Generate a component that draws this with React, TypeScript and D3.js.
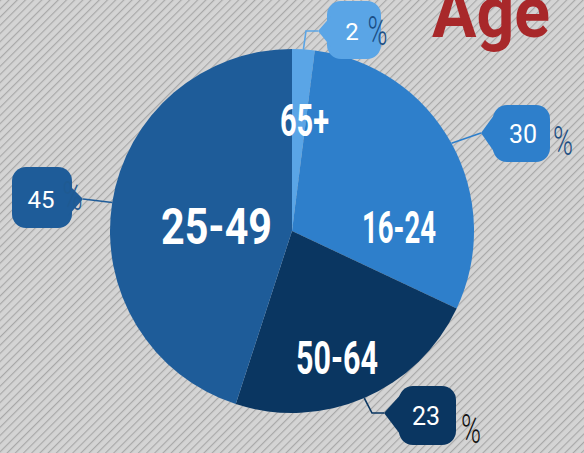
import React from 'react';
import * as d3 from 'd3';

const categories = ['65+', '16-24', '50-64', '25-49'];
const values = [2, 30, 23, 45];
const sliceColors = ['#5aa5e6', '#2e7fcb', '#0a3661', '#1e5c99'];
const percentColors = ['#1b4f86', '#1d4f83', '#111111', '#1f5a92'];
const title = 'Age';

// layout (hand placed, as in the reference)
const W = 584, H = 453;
const CX = 292, CY = 231, R = 182;
const labelLayout = [
  { x: 304.5, y: 136, size: 44, len: 49 },
  { x: 399, y: 243, size: 44, len: 74 },
  { x: 337, y: 374, size: 47, len: 82 },
  { x: 216.5, y: 244, size: 50, len: 111 },
];
const calloutLayout = [
  { box: [327, 1, 54, 58], knee: [306, 31], tip: [318, 31], base: [[331, 16], [331, 47]], num: [352, 40], numSize: 24, pct: [377.5, 45] },
  { box: [493, 105, 57, 57], knee: null, tip: [481, 133], base: [[497, 111], [497, 156]], num: [523, 143], numSize: 25, pct: [563, 155] },
  { box: [399, 386, 57, 59], knee: [372, 413], tip: [384, 413], base: [[403, 392], [403, 438]], num: [426, 425], numSize: 25, pct: [471, 443] },
  { box: [12, 167, 60, 61], knee: null, tip: [83, 199], base: [[68, 184], [68, 216]], num: [41, 208], numSize: 24, pct: [72.5, 210] },
];

export default function App() {
  const pie = d3.pie<number>().sort(null).value((d) => d).startAngle(0).endAngle(Math.PI * 2);
  const arcs = pie(values);
  const arc = d3.arc<d3.PieArcDatum<number>>().innerRadius(0).outerRadius(R);
  const edgeArc = d3.arc<d3.PieArcDatum<number>>().innerRadius(R).outerRadius(R);

  return (
    <svg width={W} height={H} style={{ position: 'absolute', left: 0, top: 0, display: 'block' }}>
      <defs>
        <pattern id="stripes" width="5.8" height="5.8" patternUnits="userSpaceOnUse" patternTransform="rotate(45)">
          <rect width="5.8" height="5.8" fill="#d4d4d4" />
          <line x1="0.6" y1="0" x2="0.6" y2="5.8" stroke="#a6a6a6" strokeWidth="1.1" />
        </pattern>
      </defs>
      <rect width={W} height={H} fill="url(#stripes)" />

      <text x={491} y={37} textLength={118} lengthAdjust="spacingAndGlyphs" textAnchor="middle"
        fontFamily="Roboto" fontWeight="bold" fontSize={72} fill="#a8282a">{title}</text>

      <g transform={`translate(${CX},${CY})`}>
        {arcs.map((a, i) => (
          <path key={i} d={arc(a) || ''} fill={sliceColors[i]} />
        ))}
      </g>

      {arcs.map((a, i) => {
        const L = labelLayout[i];
        return (
          <text key={'l' + i} x={L.x} y={L.y} textAnchor="middle" fontFamily="Roboto" fontWeight="bold"
            fontSize={L.size} fill="#ffffff" textLength={L.len} lengthAdjust="spacingAndGlyphs">{categories[i]}</text>
        );
      })}

      {arcs.map((a, i) => {
        const c = calloutLayout[i];
        const [ex, ey] = edgeArc.centroid(a);
        const pts: [number, number][] = [[CX + ex, CY + ey]];
        if (c.knee) pts.push(c.knee as [number, number]);
        pts.push(c.tip as [number, number]);
        const line = d3.line()(pts) || '';
        const [bx, by, bw, bh] = c.box;
        const wedge = `M${c.base[0][0]},${c.base[0][1]}L${c.tip[0]},${c.tip[1]}L${c.base[1][0]},${c.base[1][1]}Z`;
        return (
          <g key={'c' + i}>
            <path d={line} fill="none" stroke={sliceColors[i]} strokeWidth={1.6} />
            <rect x={bx} y={by} width={bw} height={bh} rx={14} ry={14} fill={sliceColors[i]} />
            <path d={wedge} fill={sliceColors[i]} />
            <text x={c.num[0]} y={c.num[1]} textAnchor="middle" fontFamily="Roboto" fontSize={c.numSize} fill="#ffffff">{values[i]}</text>
            <text x={c.pct[0]} y={c.pct[1]} textAnchor="middle" fontFamily="Roboto" fontWeight={300} fontSize={40}
              textLength={20} lengthAdjust="spacingAndGlyphs" fill={percentColors[i]}>%</text>
          </g>
        );
      })}
    </svg>
  );
}
